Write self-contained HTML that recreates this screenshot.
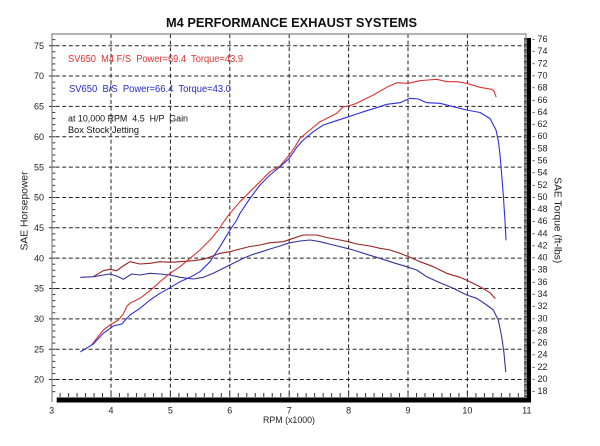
<!DOCTYPE html>
<html><head><meta charset="utf-8"><style>
html,body{margin:0;padding:0;background:#fff;}
svg{display:block;}
text{font-family:"Liberation Sans",Arial,sans-serif;}
</style></head><body>
<svg width="600" height="446" viewBox="0 0 600 446" xmlns="http://www.w3.org/2000/svg">
<defs>
<pattern id="ltick" x="0" y="45.2" width="10" height="6.07" patternUnits="userSpaceOnUse"><rect x="0" y="0" width="10" height="1" fill="#333"/></pattern>
<pattern id="xtick" x="51.1" y="0" width="8.486" height="10" patternUnits="userSpaceOnUse"><rect x="0" y="0" width="1" height="10" fill="#333"/></pattern>
<pattern id="rcomb" x="0" y="38" width="10" height="1.214" patternUnits="userSpaceOnUse"><rect x="0" y="0" width="10" height="0.65" fill="#000"/></pattern>
</defs>
<rect width="600" height="446" fill="#fff"/>

<!-- title -->
<text x="291.5" y="27" font-size="13" font-weight="bold" text-anchor="middle" textLength="251" lengthAdjust="spacingAndGlyphs" fill="#111">M4 PERFORMANCE EXHAUST SYSTEMS</text>

<!-- gridlines -->
<g stroke="#222" stroke-width="1" stroke-dasharray="4,2.6" fill="none">
<path d="M49 45.7H525M49 76.05H525M49 106.4H525M49 136.75H525M49 167.1H525M49 197.45H525M49 227.8H525M49 258.15H525M49 288.5H525M49 318.85H525M49 349.2H525M49 379.55H525"/>
<path d="M111 34V397M170.4 34V397M229.8 34V397M289.2 34V397M348.6 34V397M408 34V397M467.4 34V397"/>
</g>

<!-- frame -->
<path d="M52 402V34H526V38" stroke="#888" stroke-width="1.2" fill="none"/>
<rect x="52.5" y="34" width="2.8" height="363" fill="url(#ltick)"/>
<rect x="52" y="393" width="474" height="4" fill="url(#xtick)"/>
<rect x="56.7" y="397.5" width="474.3" height="5" fill="#000"/>
<rect x="527" y="38" width="4" height="364.5" fill="#000"/>
<rect x="524" y="38" width="3" height="359" fill="url(#rcomb)"/>

<!-- left labels -->
<g font-size="9" fill="#222" text-anchor="end">
<text x="44" y="48.9">75</text><text x="44" y="79.2">70</text><text x="44" y="109.6">65</text><text x="44" y="139.9">60</text><text x="44" y="170.3">55</text><text x="44" y="200.6">50</text><text x="44" y="231">45</text><text x="44" y="261.3">40</text><text x="44" y="291.7">35</text><text x="44" y="322">30</text><text x="44" y="352.4">25</text><text x="44" y="382.7">20</text>
</g>

<!-- right labels -->
<g font-size="9" fill="#222" xml:space="preserve">
<text x="532" y="42.1">- 76</text><text x="532" y="54.2">- 74</text><text x="532" y="66.4">- 72</text><text x="532" y="78.5">- 70</text><text x="532" y="90.6">- 68</text><text x="532" y="102.8">- 66</text><text x="532" y="114.9">- 64</text><text x="532" y="127.1">- 62</text><text x="532" y="139.2">- 60</text><text x="532" y="151.3">- 58</text><text x="532" y="163.5">- 56</text><text x="532" y="175.6">- 54</text><text x="532" y="187.8">- 52</text><text x="532" y="199.9">- 50</text><text x="532" y="212">- 48</text><text x="532" y="224.2">- 46</text><text x="532" y="236.3">- 44</text><text x="532" y="248.5">- 42</text><text x="532" y="260.6">- 40</text><text x="532" y="272.7">- 38</text><text x="532" y="284.9">- 36</text><text x="532" y="297">- 34</text><text x="532" y="309.2">- 32</text><text x="532" y="321.3">- 30</text><text x="532" y="333.4">- 28</text><text x="532" y="345.6">- 26</text><text x="532" y="357.7">- 24</text><text x="532" y="369.9">- 22</text><text x="532" y="382">- 20</text><text x="532" y="394.1">- 18</text>
</g>

<!-- x labels -->
<g font-size="9" fill="#222" text-anchor="middle">
<text x="51.6" y="413.5">3</text><text x="111" y="413.5">4</text><text x="170.4" y="413.5">5</text><text x="229.8" y="413.5">6</text><text x="289.2" y="413.5">7</text><text x="348.6" y="413.5">8</text><text x="408" y="413.5">9</text><text x="467.4" y="413.5">10</text><text x="526.8" y="413.5">11</text>
</g>
<text x="263" y="423" font-size="9" fill="#222" textLength="52" lengthAdjust="spacingAndGlyphs">RPM (x1000)</text>

<!-- axis titles -->
<text transform="translate(27.5,211) rotate(-90)" font-size="10" fill="#222" text-anchor="middle" textLength="79" lengthAdjust="spacingAndGlyphs">SAE Horsepower</text>
<text transform="translate(554.5,220.3) rotate(90)" font-size="10" fill="#222" text-anchor="middle" textLength="86" lengthAdjust="spacingAndGlyphs">SAE Torque (ft-lbs)</text>

<!-- legend -->
<text x="68" y="62" font-size="10" fill="#e03030" xml:space="preserve" textLength="175" lengthAdjust="spacingAndGlyphs">SV650  M4 F/S  Power=69.4  Torque=43.9</text>
<text x="69" y="92" font-size="10" fill="#2a2ac8" xml:space="preserve" textLength="162" lengthAdjust="spacingAndGlyphs">SV650  B/S  Power=66.4  Torque=43.0</text>
<text x="68" y="121.5" font-size="9.5" fill="#111" xml:space="preserve" textLength="120" lengthAdjust="spacingAndGlyphs">at 10,000 RPM  4.5  H/P  Gain</text>
<text x="68" y="132.8" font-size="9.5" fill="#111" textLength="71" lengthAdjust="spacingAndGlyphs">Box Stock Jetting</text>

<!-- curves -->
<g fill="none" stroke-width="1.1" stroke-linejoin="round" stroke-linecap="round">
<!-- red torque -->
<polyline stroke="#9a2424" points="93.3,276.7 103.3,270.7 110,269.3 116.7,270.7 123,266 130,261.7 140,264 150,263.3 160,261.7 170,262.3 180,261.7 193.3,260.7 203.3,259.3 210,257 220,253.3 230,251.7 240,249 250,246.5 260,245 270,242.7 283.3,241.7 293.3,238.3 303.3,235 316.7,235 326.7,237.5 340,240 348.3,241.7 356.7,244 370,246 380,248.3 390,250 400,253.3 410,257.3 420,261.7 433.3,266.7 446.7,273.3 460,277.3 470,281.7 480,286.7 490,292.7 495,298.3"/>
<!-- blue torque -->
<polyline stroke="#34349a" points="80.7,277.3 93.3,276.7 103.3,275 110,274 116.7,276 123.3,279.3 131.7,274 140,275 150,273.3 160,274 170,275 180,277.3 193.3,279 203.3,277.3 213.3,273.3 223.3,268.3 233.3,263.3 243.3,258.3 253.3,254.3 260,252.3 270,249 280,246 290,242.7 300,241 310,240 320,241.7 333.3,245 346.7,248.3 353.3,250 366.7,254.3 380,258.3 393.3,262.7 406.7,266.7 416.7,270 426.7,276.7 440,282.7 453.3,288.3 466.7,295 476.7,298.3 486.7,305 493.3,310 498.3,320 501.7,336.7 504,353.3 505.7,371.7"/>
<!-- red HP -->
<polyline stroke="#dc3434" points="91.7,345 97,338 103.3,330 110,325 118.3,320 123.3,314 127,306 130,303.3 140,298.3 150,290.7 160,281.7 170,273.3 180,266.7 190,258.3 200,250 210,240 218.3,230 225,220 230,213.3 240,201.7 250,191.7 260,181.7 270,171.7 280,166 289.3,155 295,146.7 300,138.3 310,130 320,121.7 330,116.7 336.7,113.3 343.3,106.7 348.3,106 356.7,103.3 373.3,95 386.7,87.3 396.7,82.7 408.3,83.3 420,80.7 428,80 436.7,79.3 446.7,81.7 456.7,81.7 466.7,83.3 480,87.3 491.7,89.3 494,91 496,96.7"/>
<!-- blue HP -->
<polyline stroke="#2e2ee0" points="80.7,351.7 93.3,344 103.3,333.3 113.3,326 121.7,324 130,315 140,308.3 150,300 160,293.3 170,287.7 180,281.7 190,277.3 200,271.7 210,261.7 220,246.7 230,230 236.7,220 240,213.3 250,198.3 260,185 270,175 280,166.7 289.3,158.3 296.7,147.3 303.3,140 313.3,131.7 323.3,125 333.3,121.7 346.7,117.3 356.7,114 366.7,110.7 376.7,107.7 386.7,104.3 400,102.7 410,98.3 418.3,99 426.7,102.7 440,103.3 453.3,106.7 466.7,110 480,112.5 490,118.5 496,130 498.5,142 500,155 501.7,175 503.3,195 505,221 506,240"/>
</g>
</svg>
</body></html>
